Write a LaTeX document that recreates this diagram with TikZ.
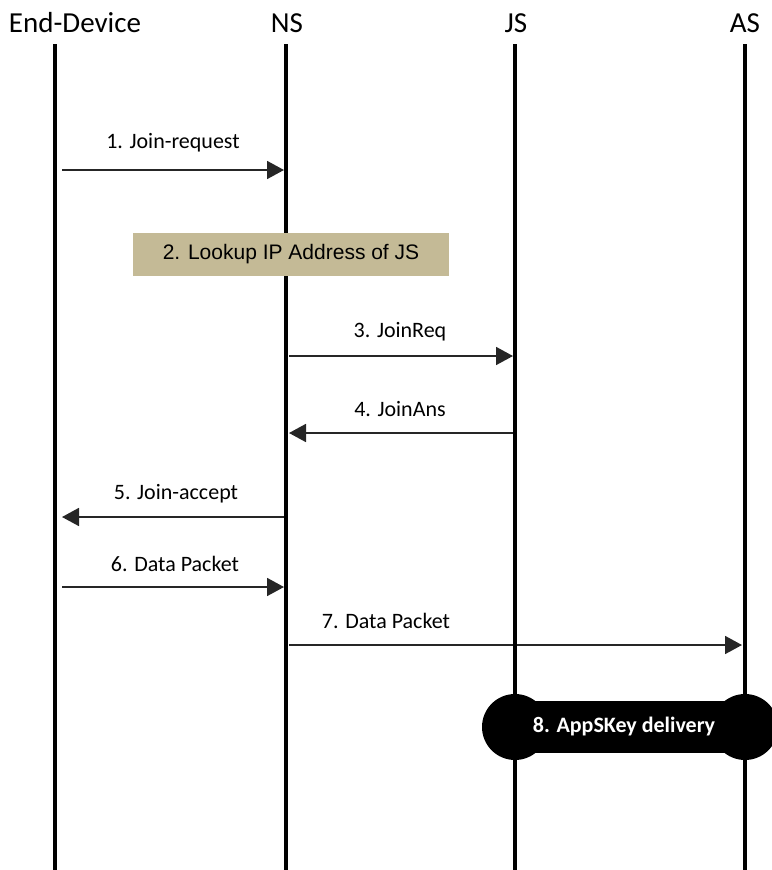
\documentclass[tikz,border=0pt]{standalone}
\usepackage{fontspec}
\setmainfont{Carlito}
\newfontfamily\arialfont{Liberation Sans}
\usetikzlibrary{arrows.meta}
\definecolor{lookuptan}{HTML}{C4BA96}
\begin{document}
\begin{tikzpicture}[x=1pt,y=-1pt,
  lifeline/.style={line width=4pt},
  msg/.style={line width=1.8pt, draw=black!85, -{Triangle[length=17pt,width=18pt]}},
  msglabel/.style={font=\fontsize{22}{26}\selectfont, inner sep=0pt},
  head/.style={font=\fontsize{29}{34}\selectfont, inner sep=0pt},
  lookup/.style={fill=lookuptan, minimum width=316pt, minimum height=43pt, inner sep=0pt,
    font=\arialfont\fontsize{21}{25}\selectfont},
  delivery/.style={text=white, inner sep=0pt, font=\bfseries\fontsize{22}{26}\selectfont}]
\useasboundingbox (0,0) rectangle (771,870);

% participants
\node[head] (ed) at (75,23) {End-Device};
\node[head] (ns) at (287,23) {NS};
\node[head] (js) at (516,23) {JS};
\node[head] (as) at (745,23) {AS};

% lifeline ends
\coordinate (edT) at (55,44);  \coordinate (edB) at (55,870);
\coordinate (nsT) at (286,44); \coordinate (nsB) at (286,870);
\coordinate (jsT) at (515,44); \coordinate (jsB) at (515,870);
\coordinate (asT) at (745,44); \coordinate (asB) at (745,870);

% step 8 background shape between JS and AS
\fill (515,727) circle (33);
\fill (745,727) circle (33);
\fill (515,701) rectangle (745,753);

% lifelines
\draw[lifeline] (edT) -- (edB);
\draw[lifeline] (nsT) -- (nsB);
\draw[lifeline] (jsT) -- (jsB);
\draw[lifeline] (asT) -- (asB);

% step 2 box
\node[lookup] (lookup) at (291,254) {2. Lookup IP Address of JS};

% message end points
\coordinate (m1a) at (62,170);  \coordinate (m1b) at (284,170);
\coordinate (m3a) at (289,356); \coordinate (m3b) at (513,356);
\coordinate (m4a) at (513,433); \coordinate (m4b) at (289,433);
\coordinate (m5a) at (284,517); \coordinate (m5b) at (62,517);
\coordinate (m6a) at (62,587);  \coordinate (m6b) at (284,587);
\coordinate (m7a) at (289,645); \coordinate (m7b) at (742,645);

% messages
\draw[msg] (m1a) -- (m1b);
\node[msglabel] (l1) at (173,143) {1. Join-request};
\draw[msg] (m3a) -- (m3b);
\node[msglabel] (l3) at (400,332) {3. JoinReq};
\draw[msg] (m4a) -- (m4b);
\node[msglabel] (l4) at (400,409) {4. JoinAns};
\draw[msg] (m5a) -- (m5b);
\node[msglabel] (l5) at (176,494) {5. Join-accept};
\draw[msg] (m6a) -- (m6b);
\node[msglabel] (l6) at (175,564) {6. Data Packet};
\draw[msg] (m7a) -- (m7b);
\node[msglabel] (l7) at (386,621) {7. Data Packet};

% redraw JS lifeline over message 7
\draw[lifeline] (515,630) -- (515,660);

% step 8 label
\node[delivery] (l8) at (624,727) {8. AppSKey delivery};
\end{tikzpicture}
\end{document}
